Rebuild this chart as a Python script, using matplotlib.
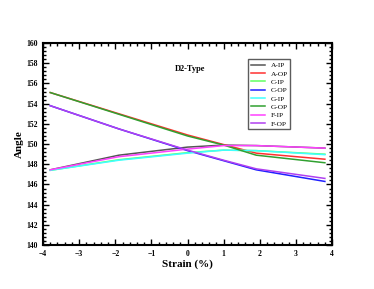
import matplotlib
matplotlib.use("Agg")
import matplotlib.pyplot as plt
from matplotlib.ticker import MultipleLocator

strain = [-3.8, -1.9, 0.0, 1.0, 1.9, 3.8]
a_ip = [147.45, 148.9, 149.7, 149.9, 149.85, 149.6]
a_op = [155.1, 153.0, 150.9, 149.95, 149.1, 148.5]
c_ip = [147.4, 148.45, 149.15, 149.4, 149.35, 149.0]
c_op = [153.8, 151.5, 149.35, 148.35, 147.45, 146.3]
g_ip = [147.4, 148.4, 149.1, 149.4, 149.35, 148.95]
g_op = [155.1, 152.95, 150.8, 149.9, 148.9, 148.15]
f_ip = [147.45, 148.75, 149.5, 149.85, 149.85, 149.6]
f_op = [153.8, 151.5, 149.4, 148.4, 147.55, 146.6]

series = [
    ("A-IP", a_ip, "#555555"),
    ("A-OP", a_op, "#ff3030"),
    ("C-IP", c_ip, "#60ff60"),
    ("C-OP", c_op, "#2020ff"),
    ("G-IP", g_ip, "#40ffff"),
    ("G-OP", g_op, "#30a030"),
    ("F-IP", f_ip, "#ff40ff"),
    ("F-OP", f_op, "#b040f0"),
]

plt.rcParams['font.family'] = ['Liberation Serif', 'DejaVu Serif']
fig = plt.figure(figsize=(3.74, 2.89), dpi=100)
ax = fig.add_axes([0.115, 0.152, 0.773, 0.699])

for name, ys, col in series:
    ax.plot(strain, ys, color=col, lw=1.1, label=name)

ax.set_xlim(-4, 4)
ax.set_ylim(140, 160)
ax.xaxis.set_major_locator(MultipleLocator(1))
ax.xaxis.set_minor_locator(MultipleLocator(0.2))
ax.yaxis.set_major_locator(MultipleLocator(2))
ax.yaxis.set_minor_locator(MultipleLocator(0.4))
ax.tick_params(which='both', direction='in', top=True, right=True, labelsize=5.5, width=1)
ax.tick_params(which='major', length=4)
ax.tick_params(which='minor', length=2)
for lab in ax.get_xticklabels() + ax.get_yticklabels():
    lab.set_fontweight('bold')
for sp in ax.spines.values():
    sp.set_linewidth(1.5)

ax.set_xlabel("Strain (%)", fontsize=8, fontweight='bold', labelpad=1)
ax.set_ylabel("Angle", fontsize=8, fontweight='bold', labelpad=2)
ax.text(0.07, 157.4, "D2-Type", fontsize=6, fontweight='bold', ha='center', va='center')

leg = ax.legend(loc='upper left', bbox_to_anchor=(0.697, 0.937), fontsize=5.3,
                frameon=True, fancybox=False, edgecolor='#333333', handlelength=2.0,
                labelspacing=0.3, borderpad=0.35, handletextpad=0.7)
leg.get_frame().set_linewidth(1.0)

fig.savefig("out.png", dpi=100)
